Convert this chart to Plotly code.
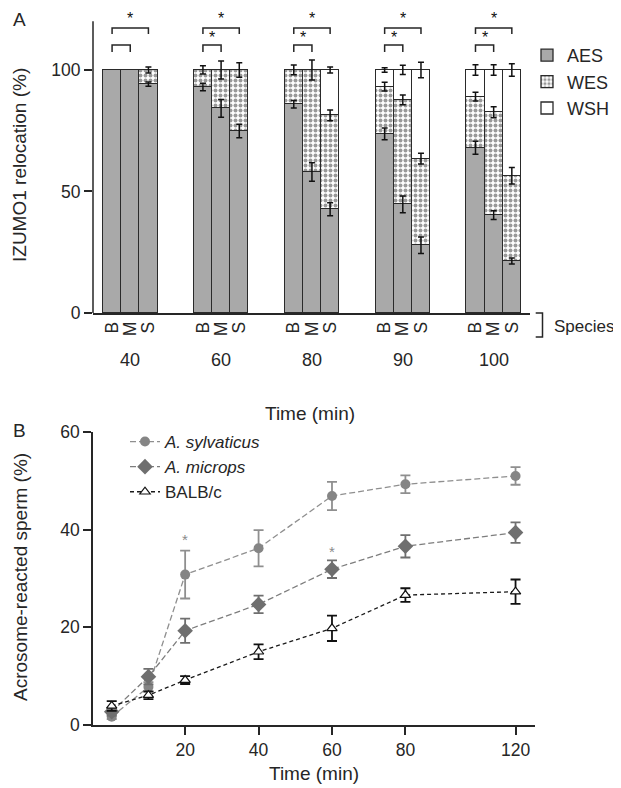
import plotly.graph_objects as go

# ---------------- Panel A data ----------------
times_a = ["40", "60", "80", "90", "100"]
species = ["B", "M", "S"]
aes = [100, 100, 94.2, 93.0, 84.2, 74.9, 85.9, 58.0, 42.7, 73.7, 44.7, 27.9, 68.0, 40.3, 21.4]
wes = [0, 0, 5.8, 7.0, 15.8, 25.1, 14.1, 42.0, 38.6, 19.4, 43.0, 35.6, 21.0, 42.3, 35.1]
wsh = [0, 0, 0, 0, 0, 0, 0, 0, 18.7, 6.9, 12.3, 36.5, 11.0, 17.4, 43.5]
aes_err = [0, 0, 0.9, 1.5, 3.7, 2.8, 1.5, 3.8, 2.7, 2.4, 3.4, 3.4, 2.7, 1.8, 1.2]
wes_err = [0, 0, 1.2, 1.7, 3.7, 3.0, 2.0, 4.1, 2.2, 1.8, 2.0, 2.2, 1.8, 2.3, 3.4]
wsh_err = [0, 0, 0, 0, 0, 0, 0, 0, 1.2, 0.9, 1.9, 3.2, 2.2, 2.2, 2.6]
sig_b_vs_s = [True, True, True, True, True]
sig_b_vs_m = [False, True, True, True, True]

# ---------------- Panel B data ----------------
times_b = [0, 10, 20, 40, 60, 80, 120]
tick_times_b = [20, 40, 60, 80, 120]
sylvaticus = [1.7, 7.8, 30.8, 36.2, 46.9, 49.3, 51.0]
sylvaticus_err = [0.5, 1.0, 4.9, 3.7, 2.9, 1.8, 1.8]
microps = [2.7, 9.9, 19.3, 24.7, 31.9, 36.6, 39.4]
microps_err = [0.8, 1.6, 2.5, 1.8, 1.8, 2.3, 2.1]
balbc = [3.9, 6.1, 9.2, 15.0, 19.8, 26.6, 27.3]
balbc_err = [1.0, 0.8, 0.8, 1.5, 2.6, 1.4, 2.5]
sig_syl_times = [20]
sig_mic_times = [60]

GROUP_STEP = 5
xs = [g * GROUP_STEP + j for g in range(len(times_a)) for j in range(len(species))]


def axis_pos(t):
    # compressed scale beyond 80 min (axis break style)
    return t if t <= 80 else 80 + (t - 80) * 0.75


# page has an 8px body margin: figure is sized to fit the 621x788 window
OX, OY = 8, 8
W, H = 613, 780


def px(X):
    return (X - OX) / W


def py(Y):
    return 1 - (Y - OY) / H


FONT = "Liberation Sans, Arial, Helvetica, sans-serif"
DARK = "#262626"
TICK_SIZE = 17.5
TITLE_SIZE = 19
fig = go.Figure()

outline = dict(color="#2a2a2a", width=1.3)
fig.add_trace(go.Bar(x=xs, y=aes, width=1, name="AES", marker=dict(color="#a9a9a9", line=outline),
                     xaxis="x", yaxis="y", legend="legend"))
fig.add_trace(go.Bar(x=xs, y=wes, width=1, name="WES",
                     marker=dict(color="white", line=outline,
                                 pattern=dict(shape=".", fgcolor="#999999", bgcolor="white",
                                              size=5, solidity=0.5, fillmode="replace")),
                     xaxis="x", yaxis="y", legend="legend"))
fig.add_trace(go.Bar(x=xs, y=wsh, width=1, name="WSH", marker=dict(color="white", line=outline),
                     xaxis="x", yaxis="y", legend="legend"))

# error bars at top of each stacked segment
ex, ey, ee = [], [], []
for i, x in enumerate(xs):
    c1 = aes[i]
    c2 = aes[i] + wes[i]
    c3 = aes[i] + wes[i] + wsh[i]
    for top, err in ((c1, aes_err[i]), (c2, wes_err[i]), (c3, wsh_err[i])):
        if err > 0:
            ex.append(x)
            ey.append(top)
            ee.append(err)
fig.add_trace(go.Scatter(x=ex, y=ey, mode="markers", marker=dict(size=1, opacity=0),
                         error_y=dict(type="data", array=ee, visible=True, color="#111",
                                      thickness=1.5, width=3),
                         showlegend=False, hoverinfo="skip", xaxis="x", yaxis="y"))

# Panel B traces
xb = [axis_pos(t) for t in times_b]
fig.add_trace(go.Scatter(x=xb, y=sylvaticus, name="<i>A. sylvaticus</i>", mode="lines+markers",
                         line=dict(color="#8f8f8f", width=1.3, dash="6px,3px"),
                         marker=dict(symbol="circle", size=10, color="#858585"),
                         error_y=dict(type="data", array=sylvaticus_err, color="#8f8f8f",
                                      thickness=1.8, width=5),
                         xaxis="x2", yaxis="y2", legend="legend2"))
fig.add_trace(go.Scatter(x=xb, y=microps, name="<i>A. microps</i>", mode="lines+markers",
                         line=dict(color="#7d7d7d", width=1.3, dash="6px,3px"),
                         marker=dict(symbol="diamond", size=12, color="#6f6f6f"),
                         error_y=dict(type="data", array=microps_err, color="#6f6f6f",
                                      thickness=1.8, width=5),
                         xaxis="x2", yaxis="y2", legend="legend2"))
fig.add_trace(go.Scatter(x=xb, y=balbc, name="BALB/c", mode="lines+markers",
                         line=dict(color="#1a1a1a", width=1.3, dash="4px,3px"),
                         marker=dict(symbol="triangle-up", size=9, color="white",
                                     line=dict(color="#111", width=1.2)),
                         error_y=dict(type="data", array=balbc_err, color="#111",
                                      thickness=1.8, width=5),
                         xaxis="x2", yaxis="y2", legend="legend2"))

shapes = []
annotations = []

# y axis line for panel A (up to 120)
shapes.append(dict(type="line", xref="x domain", yref="y", x0=0, x1=0, y0=0, y1=120,
                   line=dict(color=DARK, width=1.5)))

# significance brackets panel A
for g in range(len(times_a)):
    b = g * GROUP_STEP
    if sig_b_vs_s[g]:
        shapes.append(dict(type="path", xref="x", yref="y",
                           path=f"M {b},114.8 L {b},117.3 L {b+2},117.3 L {b+2},114.8",
                           line=dict(color=DARK, width=1.5)))
        annotations.append(dict(x=b + 1, y=121.2, xref="x", yref="y", text="*", showarrow=False,
                                xanchor="center", yanchor="middle",
                                font=dict(size=16, color="#111111")))
    shapes.append(dict(type="path", xref="x", yref="y",
                       path=f"M {b},107.4 L {b},110.3 L {b+1},110.3 L {b+1},107.4",
                       line=dict(color=DARK, width=1.5)))
    if sig_b_vs_m[g]:
        annotations.append(dict(x=b + 0.5, y=113.4, xref="x", yref="y", text="*", showarrow=False,
                                xanchor="center", yanchor="middle",
                                font=dict(size=16, color="#111111")))
    annotations.append(dict(x=b + 1, y=py(360), xref="x", yref="paper", text=times_a[g],
                            xanchor="center", yanchor="middle",
                            showarrow=False, font=dict(size=18, color=DARK)))

# Species bracket
x0b, x1b = px(535.7), px(542.5)
ytb, ybb = py(313), py(337)
shapes.append(dict(type="path", xref="paper", yref="paper",
                   path=f"M {x0b},{ytb} L {x1b},{ytb} L {x1b},{ybb} L {x0b},{ybb}",
                   line=dict(color=DARK, width=1.5)))
annotations.append(dict(x=px(552), y=py(326), xref="paper", yref="paper", text="Species",
                        xanchor="left", yanchor="middle", showarrow=False,
                        font=dict(size=17, color=DARK)))

# significance stars panel B
for t in sig_syl_times:
    i = times_b.index(t)
    annotations.append(dict(x=axis_pos(t), y=sylvaticus[i] + sylvaticus_err[i] + 2.2, xref="x2", yref="y2",
                            text="*", showarrow=False, xanchor="center", yanchor="middle",
                            font=dict(size=15, color="#8a8a8a")))
for t in sig_mic_times:
    i = times_b.index(t)
    annotations.append(dict(x=axis_pos(t), y=microps[i] + microps_err[i] + 1.8, xref="x2", yref="y2",
                            text="*", showarrow=False, xanchor="center", yanchor="middle",
                            font=dict(size=15, color="#8a8a8a")))


# titles and panel labels
def label(X, Y, text, angle=0, size=TITLE_SIZE):
    return dict(x=px(X), y=py(Y), text=text, textangle=angle, xref="paper", yref="paper",
                xanchor="center", yanchor="middle", showarrow=False,
                font=dict(size=size, color=DARK))


annotations += [
    label(20, 20, "A"),
    label(20, 430, "B"),
    label(20, 165, "IZUMO1 relocation (%)", -90),
    label(20, 577, "Acrosome-reacted sperm (%)", -90),
    label(310, 413, "Time (min)"),
    label(314, 773, "Time (min)"),
]

axis_common = dict(showgrid=False, zeroline=False, linecolor=DARK, linewidth=1.5,
                   tickcolor=DARK, tickwidth=1.5, ticklen=8, automargin=False,
                   tickfont=dict(size=TICK_SIZE, color=DARK, family=FONT))
axis_a_x = {k: v for k, v in axis_common.items() if k != "ticklen"}

fig.update_layout(
    width=W, height=H,
    margin=dict(l=0, r=0, t=0, b=0, pad=0, autoexpand=False),
    paper_bgcolor="white", plot_bgcolor="white",
    font=dict(family=FONT, size=17, color=DARK),
    barmode="stack", bargap=0,
    xaxis=dict(domain=[px(93), px(530)], range=[-1.05, 23.0], tickmode="array",
               tickvals=xs, ticktext=species * len(times_a), tickangle=-90, ticks="",
               showline=True, anchor="y", **axis_a_x),
    yaxis=dict(domain=[py(313), 1], range=[0, 125.5], tickmode="array",
               tickvals=[0, 50, 100], ticks="outside", showline=False, anchor="x", **axis_common),
    xaxis2=dict(domain=[px(93), px(535)], range=[-5.1, 115.3], tickmode="array",
                tickvals=[axis_pos(t) for t in tick_times_b], ticktext=[str(t) for t in tick_times_b],
                ticks="outside", showline=True, anchor="y2", **axis_common),
    yaxis2=dict(domain=[py(725), py(432)], range=[0, 60], tickmode="array",
                tickvals=[0, 20, 40, 60], ticks="outside", showline=True, anchor="x2", **axis_common),
    legend=dict(x=px(527), y=py(37), xanchor="left", yanchor="top", traceorder="normal",
                bgcolor="rgba(0,0,0,0)", font=dict(size=18, color=DARK), itemclick=False),
    legend2=dict(x=px(125), y=py(424), xanchor="left", yanchor="top", traceorder="normal",
                 bgcolor="rgba(0,0,0,0)", font=dict(size=17, color=DARK), itemclick=False),
    shapes=shapes,
    annotations=annotations,
)

fig.write_html("out.html")
